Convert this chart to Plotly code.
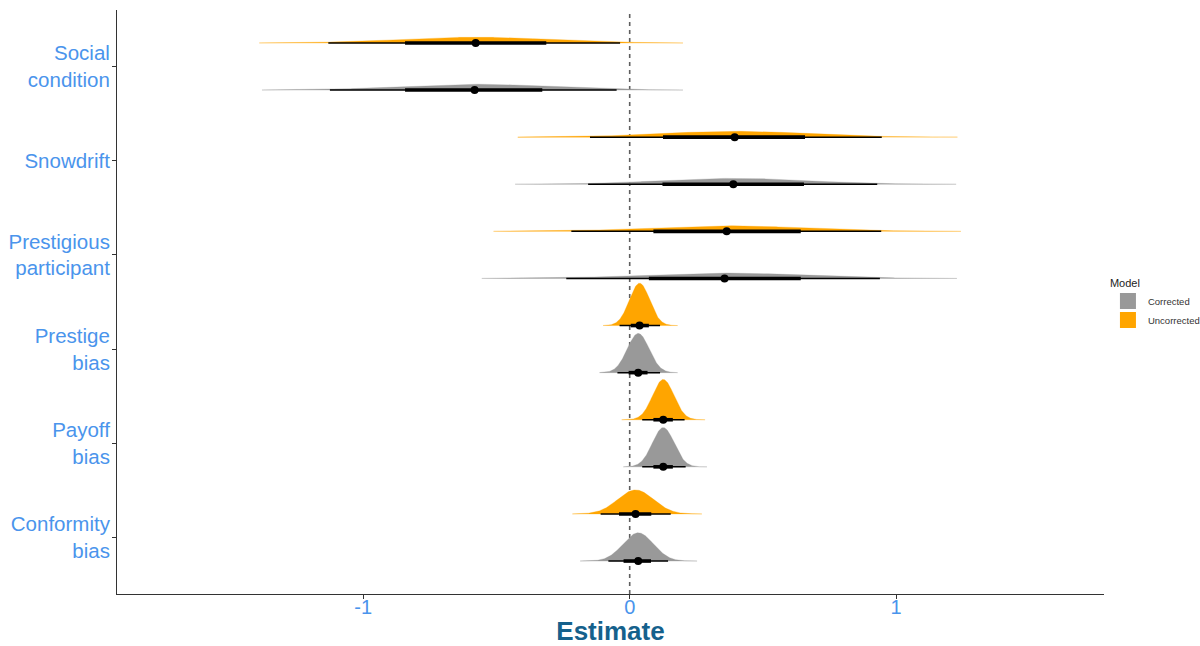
import numpy as np
import plotly.graph_objects as go

# ---------------- data ----------------
params = ["Conformity<br>bias", "Payoff<br>bias", "Prestige<br>bias",
          "Prestigious<br>participant", "Snowdrift", "Social<br>condition"]
models = ["Corrected", "Uncorrected"]

# Uncorrected model
unc_median = [0.022, 0.126, 0.037, 0.364, 0.394, -0.578]
unc_q66_lo = [-0.040, 0.089, 0.004, 0.089, 0.125, -0.843]
unc_q66_hi = [0.081, 0.162, 0.072, 0.642, 0.658, -0.313]
unc_q95_lo = [-0.109, 0.047, -0.038, -0.219, -0.149, -1.131]
unc_q95_hi = [0.154, 0.206, 0.114, 0.944, 0.946, -0.036]
unc_sd = [0.067, 0.040, 0.038, 0.290, 0.275, 0.280]
unc_min = [-0.215, -0.030, -0.100, -0.511, -0.420, -1.390]
unc_max = [0.271, 0.283, 0.180, 1.243, 1.230, 0.200]

# Corrected model
cor_median = [0.032, 0.126, 0.032, 0.356, 0.389, -0.582]
cor_q66_lo = [-0.023, 0.089, -0.004, 0.072, 0.123, -0.843]
cor_q66_hi = [0.080, 0.162, 0.067, 0.642, 0.654, -0.328]
cor_q95_lo = [-0.080, 0.047, -0.046, -0.238, -0.156, -1.125]
cor_q95_hi = [0.144, 0.210, 0.114, 0.939, 0.929, -0.049]
cor_sd = [0.057, 0.041, 0.041, 0.300, 0.272, 0.275]
cor_min = [-0.186, -0.024, -0.113, -0.555, -0.430, -1.380]
cor_max = [0.253, 0.290, 0.180, 1.228, 1.225, 0.200]

x_ticks = [-1, 0, 1]

# ---------------- styling ----------------
COL = {"Corrected": "#999999", "Uncorrected": "#FFA500"}
EDGE = {"Corrected": "rgba(153,153,153,0.30)", "Uncorrected": "rgba(255,165,0,0.30)"}
OFFSET = {"Corrected": -0.25, "Uncorrected": 0.25}
SLAB_MAX = 0.45
LABEL_BLUE = "#4A94EC"
TITLE_BLUE = "#15618C"
FONT = "Liberation Sans, Arial, sans-serif"

series = {
    "Uncorrected": dict(med=unc_median, l66=unc_q66_lo, h66=unc_q66_hi,
                        l95=unc_q95_lo, h95=unc_q95_hi, sd=unc_sd,
                        mn=unc_min, mx=unc_max),
    "Corrected": dict(med=cor_median, l66=cor_q66_lo, h66=cor_q66_hi,
                      l95=cor_q95_lo, h95=cor_q95_hi, sd=cor_sd,
                      mn=cor_min, mx=cor_max),
}

def dens(x, m, s):
    return np.exp(-0.5 * ((x - m) / s) ** 2) / (s * np.sqrt(2 * np.pi))

# global max density for normalisation (ggdist normalize = "all")
dmax = max(1 / (s * np.sqrt(2 * np.pi)) for m in models for s in series[m]["sd"])

fig = go.Figure()

# slabs
for m in ["Uncorrected", "Corrected"]:
    d = series[m]
    for i in range(len(params)):
        base = i + 1 + OFFSET[m]
        xs = np.linspace(d["mn"][i], d["mx"][i], 300)
        h = SLAB_MAX * dens(xs, d["med"][i], d["sd"][i]) / dmax
        px = np.concatenate([xs, xs[::-1]])
        py = np.concatenate([base + h, np.full_like(xs, base)])
        fig.add_trace(go.Scatter(
            x=px, y=py, mode="lines", fill="toself",
            fillcolor=COL[m], line=dict(color=EDGE[m], width=1),
            showlegend=False, hoverinfo="skip"))

# intervals and points
for m in ["Uncorrected", "Corrected"]:
    d = series[m]
    for i in range(len(params)):
        base = i + 1 + OFFSET[m]
        fig.add_trace(go.Scatter(
            x=[d["l95"][i], d["h95"][i]], y=[base, base], mode="lines",
            line=dict(color="black", width=1.5), showlegend=False, hoverinfo="skip"))
        fig.add_trace(go.Scatter(
            x=[d["l66"][i], d["h66"][i]], y=[base, base], mode="lines",
            line=dict(color="black", width=3.6), showlegend=False, hoverinfo="skip"))
    fig.add_trace(go.Scatter(
        x=d["med"], y=[i + 1 + OFFSET[m] for i in range(len(params))],
        mode="markers", marker=dict(color="black", size=8),
        showlegend=False, hoverinfo="skip"))

# legend entries
for m in models:
    fig.add_trace(go.Scatter(
        x=[None], y=[None], mode="markers", name=m,
        marker=dict(symbol="square", size=16, color=COL[m])))

fig.add_vline(x=0, line=dict(color="#5e5e5e", width=1.6, dash="4px,4px"), layer="below")

fig.update_layout(
    width=1200, height=646,
    paper_bgcolor="white", plot_bgcolor="white",
    margin=dict(l=117, r=96, t=10, b=52, autoexpand=False),
    font=dict(family=FONT),
    legend=dict(
        title=dict(text="Model", font=dict(size=11, color="#222222")),
        font=dict(size=9.5, color="#333333"),
        x=1.004, y=0.551, xanchor="left", yanchor="top",
        tracegroupgap=0, itemsizing="trace", itemwidth=30,
        bgcolor="rgba(0,0,0,0)"),
    xaxis=dict(
        range=[-1.924, 1.780], tickvals=x_ticks, ticktext=[str(t) for t in x_ticks],
        showgrid=False, zeroline=False, automargin=False,
        showline=True, linecolor="#333333", linewidth=1,
        ticks="outside", ticklen=4, tickcolor="#333333", ticklabelstandoff=-9,
        tickfont=dict(size=20, color=LABEL_BLUE),
        title=dict(text="<b>Estimate</b>", font=dict(size=26, color=TITLE_BLUE), standoff=4)),
    yaxis=dict(
        range=[0.4, 6.6], tickvals=list(range(1, len(params) + 1)), ticktext=params,
        showgrid=False, zeroline=False, automargin=False,
        showline=True, linecolor="#333333", linewidth=1,
        ticks="outside", ticklen=4, tickcolor="#333333", ticklabelstandoff=-2,
        tickfont=dict(size=20.5, color=LABEL_BLUE)),
)

fig.write_html("out.html", config={"displayModeBar": False},
               post_script="document.body.style.margin='0';document.body.style.overflow='hidden';")
